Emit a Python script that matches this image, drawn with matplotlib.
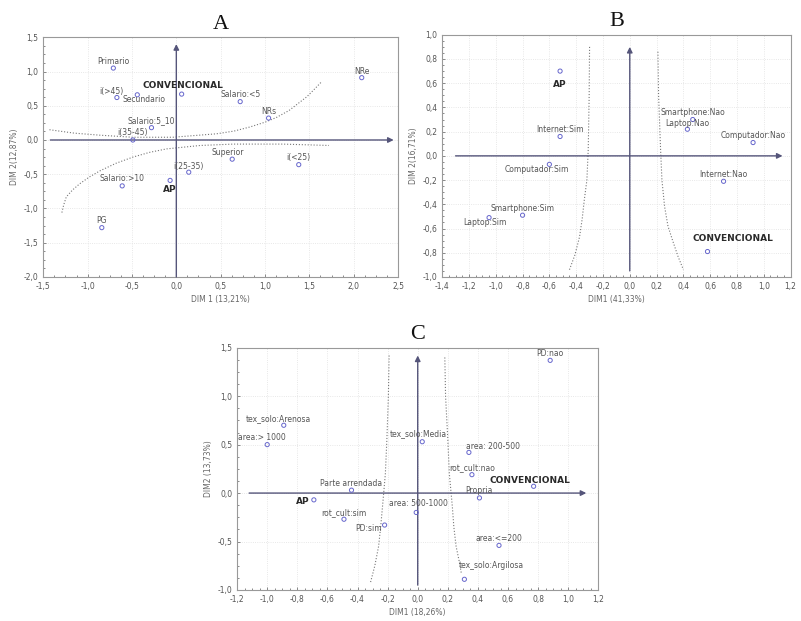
import matplotlib
matplotlib.use("Agg")
import matplotlib.pyplot as plt
from matplotlib.ticker import MultipleLocator, AutoMinorLocator, FuncFormatter

# ---- panel A data ----
a_names = ["Primario", "i(>45)", "Secundario", "CONVENCIONAL", "Salario:<5", "NRs", "NRe",
           "Salario:5_10", "i(35-45)", "Superior", "i(<25)", "i(25-35)", "AP", "Salario:>10", "PG"]
a_x = [-0.71, -0.67, -0.44, 0.06, 0.72, 1.04, 2.09, -0.28, -0.49, 0.63, 1.38, 0.14, -0.07, -0.61, -0.84]
a_y = [1.05, 0.62, 0.66, 0.67, 0.56, 0.32, 0.91, 0.18, 0.0, -0.28, -0.36, -0.47, -0.59, -0.67, -1.28]
a_up_x = [-1.43, -1.15, -0.86, -0.49, -0.04, 0.45, 0.65, 0.83, 1.0, 1.13, 1.27, 1.39, 1.47, 1.54, 1.63]
a_up_y = [0.15, 0.10, 0.07, 0.04, 0.04, 0.09, 0.13, 0.19, 0.26, 0.33, 0.43, 0.55, 0.63, 0.72, 0.84]
a_lo_x = [-1.29, -1.27, -1.24, -1.17, -1.09, -0.98, -0.86, -0.68, -0.49, -0.30, -0.11, 0.27, 0.64, 1.20, 1.72]
a_lo_y = [-1.06, -0.95, -0.83, -0.73, -0.64, -0.54, -0.45, -0.34, -0.25, -0.18, -0.13, -0.08, -0.06, -0.06, -0.08]

# ---- panel B data ----
b_names = ["AP", "Internet:Sim", "Computador:Sim", "Smartphone:Sim", "Laptop:Sim",
           "Smartphone:Nao", "Laptop:Nao", "Computador:Nao", "Internet:Nao", "CONVENCIONAL"]
b_x = [-0.52, -0.52, -0.60, -0.80, -1.05, 0.47, 0.43, 0.92, 0.70, 0.58]
b_y = [0.70, 0.16, -0.07, -0.49, -0.51, 0.30, 0.22, 0.11, -0.21, -0.79]
b_left_x = [-0.30, -0.303, -0.31, -0.32, -0.34, -0.355, -0.375, -0.41, -0.45]
b_left_y = [0.90, 0.50, 0.05, -0.20, -0.37, -0.52, -0.67, -0.82, -0.94]
b_right_x = [0.21, 0.215, 0.23, 0.24, 0.26, 0.285, 0.32, 0.36, 0.40]
b_right_y = [0.86, 0.50, 0.05, -0.20, -0.42, -0.58, -0.70, -0.83, -0.94]

# ---- panel C data ----
c_names = ["PD:nao", "tex_solo:Arenosa", "area:> 1000", "tex_solo:Media", "area: 200-500",
           "rot_cult:nao", "CONVENCIONAL", "Propria", "Parte arrendada", "AP", "area: 500-1000",
           "rot_cult:sim", "PD:sim", "area:<=200", "tex_solo:Argilosa"]
c_x = [0.88, -0.89, -1.00, 0.03, 0.34, 0.36, 0.77, 0.41, -0.44, -0.69, -0.01, -0.49, -0.22, 0.54, 0.31]
c_y = [1.37, 0.70, 0.50, 0.53, 0.42, 0.19, 0.07, -0.05, 0.03, -0.07, -0.20, -0.27, -0.33, -0.54, -0.89]
c_left_x = [-0.19, -0.195, -0.205, -0.215, -0.23, -0.245, -0.26, -0.285, -0.315]
c_left_y = [1.42, 1.00, 0.55, 0.20, -0.07, -0.33, -0.55, -0.75, -0.93]
c_right_x = [0.18, 0.185, 0.20, 0.21, 0.23, 0.24, 0.255, 0.275, 0.29]
c_right_y = [1.40, 1.00, 0.55, 0.20, -0.14, -0.35, -0.55, -0.70, -0.83]

# label offsets in pixels (dx, dy)
a_off = [(0, 7), (-6, 6), (7, -5), (1, 9), (0, 7), (0, 7), (0, 6), (0, 7), (0, 7),
         (-4, 7), (0, 7), (0, 6), (0, -9), (0, 7), (0, 7)]
b_off = [(0, -13), (0, 7), (-13, -5), (0, 7), (-4, -5), (0, 7), (0, 6), (0, 7), (0, 7), (25, 13)]
c_off = [(0, 7), (-5, 7), (-5, 7), (-4, 8), (24, 6), (0, 7), (-4, 6), (0, 7), (0, 7),
         (-11, -2), (2, 9), (0, 7), (-16, -3), (0, 7), (27, 14)]

comma = FuncFormatter(lambda v, p: f"{v:.1f}".replace(".", ","))
pt_color = "#6666cc"
axis_color = "#55557a"


def panel(ax, names, xs, ys, offs, curves, xlim, ylim, xstep, ystep, harrow, varrow,
          xlabel, ylabel, title):
    ax.set_xlim(*xlim)
    ax.set_ylim(*ylim)
    ax.xaxis.set_major_locator(MultipleLocator(xstep))
    ax.yaxis.set_major_locator(MultipleLocator(ystep))
    ax.xaxis.set_minor_locator(AutoMinorLocator(4))
    ax.yaxis.set_minor_locator(AutoMinorLocator(4))
    ax.xaxis.set_major_formatter(comma)
    ax.yaxis.set_major_formatter(comma)
    ax.tick_params(which="both", direction="in", labelsize=5.5, colors="#777777",
                   labelcolor="#555555", length=2, width=0.6)
    ax.tick_params(which="minor", length=1.2)
    for s in ax.spines.values():
        s.set_color("#999999")
        s.set_linewidth(0.8)
    ax.grid(True, linestyle=":", color="#e0e0e0", linewidth=0.6)
    ax.set_axisbelow(True)

    for cx, cy in curves:
        ax.plot(cx, cy, linestyle=":", color="#777777", linewidth=0.8)

    ax.annotate("", xy=(harrow[1], 0), xytext=(harrow[0], 0),
                arrowprops=dict(arrowstyle="-|>", color=axis_color, lw=1.0,
                                mutation_scale=8, shrinkA=0, shrinkB=0))
    ax.annotate("", xy=(0, varrow[1]), xytext=(0, varrow[0]),
                arrowprops=dict(arrowstyle="-|>", color=axis_color, lw=1.0,
                                mutation_scale=8, shrinkA=0, shrinkB=0))

    ax.scatter(xs, ys, s=9, facecolors="none", edgecolors=pt_color, linewidths=0.7, zorder=3)
    for n, x, y, (dx, dy) in zip(names, xs, ys, offs):
        bold = n in ("AP", "CONVENCIONAL")
        ax.annotate(n, (x, y), xytext=(dx, dy), textcoords="offset pixels",
                    ha="center", va="center",
                    fontsize=6.5 if bold else 5.5,
                    fontweight="bold" if bold else "normal",
                    color="#2a2a2a" if bold else "#555555", zorder=4)

    ax.set_xlabel(xlabel, fontsize=5.5, color="#666666", labelpad=3)
    ax.set_ylabel(ylabel, fontsize=5.5, color="#666666", labelpad=3)
    ax.set_title(title, fontsize=16, family="Liberation Serif", color="#111111", pad=6)


fig = plt.figure(figsize=(8.01, 6.21), dpi=100)
axA = fig.add_axes([0.054, 0.554, 0.443, 0.386])
axB = fig.add_axes([0.552, 0.554, 0.435, 0.390])
axC = fig.add_axes([0.296, 0.050, 0.451, 0.390])

panel(axA, a_names, a_x, a_y, a_off, [(a_up_x, a_up_y), (a_lo_x, a_lo_y)],
      (-1.5, 2.5), (-2.0, 1.5), 0.5, 0.5, (-1.42, 2.45), (-2.0, 1.4),
      "DIM 1 (13,21%)", "DIM 2(12,87%)", "A")
panel(axB, b_names, b_x, b_y, b_off, [(b_left_x, b_left_y), (b_right_x, b_right_y)],
      (-1.4, 1.2), (-1.0, 1.0), 0.2, 0.2, (-1.3, 1.14), (-0.95, 0.9),
      "DIM1 (41,33%)", "DIM 2(16,71%)", "B")
panel(axC, c_names, c_x, c_y, c_off, [(c_left_x, c_left_y), (c_right_x, c_right_y)],
      (-1.2, 1.2), (-1.0, 1.5), 0.2, 0.5, (-1.12, 1.12), (-0.95, 1.42),
      "DIM1 (18,26%)", "DIM2 (13,73%)", "C")

fig.savefig("out.png", dpi=100)
